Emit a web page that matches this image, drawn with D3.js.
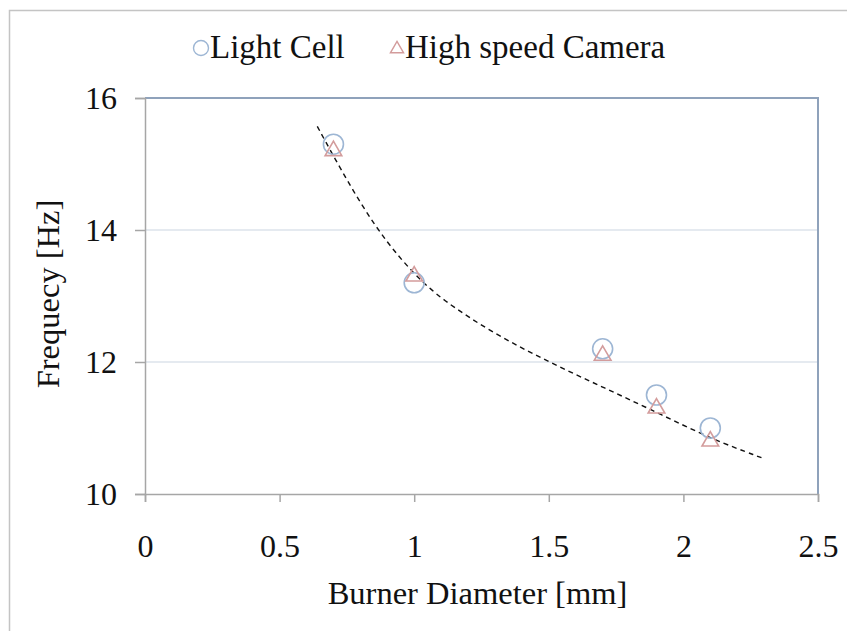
<!DOCTYPE html>
<html>
<head>
<meta charset="utf-8">
<script src="https://cdn.jsdelivr.net/npm/d3@7"></script>
<style>
  body { margin: 0; background: #fff; }
  svg text { font-family: "Liberation Serif", "Tinos", "DejaVu Serif", serif !important; fill: #111; }
</style>
</head>
<body>
<div id="chart"></div>
<script>
// data
var diameters = [0.7, 1.0, 1.7, 1.9, 2.1];
var lightCell = [15.3, 13.2, 12.2, 11.5, 11.0];
var highSpeed = [15.2, 13.3, 12.1, 11.3, 10.8];
// dashed trend line
var trendX = [0.64, 0.7, 0.8, 0.9, 1.0, 1.1, 1.3, 1.5, 1.7, 1.9, 2.1, 2.29];
var trendY = [15.57, 15.12, 14.4, 13.8, 13.33, 12.95, 12.42, 12.0, 11.62, 11.24, 10.84, 10.55];
var xTicks = [0, 0.5, 1, 1.5, 2, 2.5];
var yTicks = [10, 12, 14, 16];

var W = 847, H = 631;
var margin = {top: 98, right: 29, bottom: 137, left: 145},
    width = W - margin.left - margin.right,
    height = H - margin.top - margin.bottom;

var root = d3.select("#chart").append("svg")
    .attr("width", W)
    .attr("height", H);

// outer chart frame (only left/top visible)
root.append("rect")
    .attr("x", 9.5).attr("y", 10.5)
    .attr("width", 900).attr("height", 700)
    .attr("fill", "none")
    .attr("stroke", "#c4c4c4")
    .attr("stroke-width", 1.5);

var svg = root.append("g")
    .attr("transform", "translate(" + margin.left + "," + margin.top + ")");

var x = d3.scaleLinear().domain([0, 2.5]).range([0, width]);
var y = d3.scaleLinear().domain([10, 16]).range([height, 0]);

// gridlines
svg.selectAll(".grid")
    .data(yTicks.filter(function(d){ return d > 10 && d < 16; }))
    .enter().append("line")
    .attr("x1", 0).attr("x2", width)
    .attr("y1", function(d){ return y(d); })
    .attr("y2", function(d){ return y(d); })
    .attr("stroke", "#dce3eb")
    .attr("stroke-width", 1.5);

// plot border top / right
svg.append("path")
    .attr("d", "M0," + y(16) + "H" + x(2.5) + "V" + y(10))
    .attr("fill", "none")
    .attr("stroke", "#8fa2bb")
    .attr("stroke-width", 2);

// x axis
var xAxis = svg.append("g")
    .attr("transform", "translate(0," + height + ")")
    .call(d3.axisBottom(x).tickValues(xTicks).tickSize(8).tickPadding(32)
        .tickFormat(d3.format("")));
xAxis.attr("font-family", null).attr("font-size", null);
xAxis.select(".domain").attr("stroke", "#a6a6a6").attr("stroke-width", 1.5);
xAxis.selectAll(".tick line").attr("stroke", "#a6a6a6").attr("stroke-width", 1.5);
xAxis.selectAll(".tick text")
    .style("font-size", "32px")
    .attr("fill", "#111");

// y axis
var yAxis = svg.append("g")
    .call(d3.axisLeft(y).tickValues(yTicks).tickSize(10).tickPadding(18)
        .tickFormat(d3.format("d")));
yAxis.attr("font-family", null).attr("font-size", null);
yAxis.select(".domain").attr("stroke", "#a6a6a6").attr("stroke-width", 1.5);
yAxis.selectAll(".tick line").attr("stroke", "#a6a6a6").attr("stroke-width", 1.5);
yAxis.selectAll(".tick text")
    .style("font-size", "32px")
    .attr("fill", "#111");

// axis titles
svg.append("text")
    .attr("x", width / 2 - 4)
    .attr("y", height + 110)
    .attr("text-anchor", "middle")
    .style("font-size", "32.5px")
    .text("Burner Diameter [mm]");

svg.append("text")
    .attr("transform", "translate(" + (59 - margin.left) + "," + (y(13) - 2) + ") rotate(-90)")
    .attr("text-anchor", "middle")
    .style("font-size", "32.5px")
    .text("Frequecy [Hz]");

// trend line
var trend = trendX.map(function(d, i){ return [d, trendY[i]]; });
svg.append("path")
    .datum(trend)
    .attr("fill", "none")
    .attr("stroke", "#111")
    .attr("stroke-width", 1.4)
    .attr("stroke-dasharray", "5,4")
    .attr("d", d3.line()
        .x(function(d){ return x(d[0]); })
        .y(function(d){ return y(d[1]); })
        .curve(d3.curveBasis));

var triangle = d3.symbol().type(d3.symbolTriangle);

// light cell circles
svg.selectAll(".lc")
    .data(diameters)
    .enter().append("circle")
    .attr("cx", function(d){ return x(d); })
    .attr("cy", function(d, i){ return y(lightCell[i]); })
    .attr("r", 10)
    .attr("fill", "none")
    .attr("stroke", "#9db6d4")
    .attr("stroke-width", 1.6);

// high speed camera triangles
svg.selectAll(".hs")
    .data(diameters)
    .enter().append("path")
    .attr("transform", function(d, i){ return "translate(" + x(d) + "," + y(highSpeed[i]) + ")"; })
    .attr("d", triangle.size(120))
    .attr("fill", "none")
    .attr("stroke", "#d39c9c")
    .attr("stroke-width", 1.6);

// legend
var legend = root.append("g");
legend.append("circle")
    .attr("cx", 201).attr("cy", 48).attr("r", 7.5)
    .attr("fill", "none").attr("stroke", "#9db6d4").attr("stroke-width", 1.4);
legend.append("text")
    .attr("x", 210).attr("y", 58)
    .style("font-size", "33px")
    .text("Light Cell");
legend.append("path")
    .attr("transform", "translate(397,49)")
    .attr("d", d3.symbol().type(d3.symbolTriangle).size(75)())
    .attr("fill", "none").attr("stroke", "#d39c9c").attr("stroke-width", 1.4);
legend.append("text")
    .attr("x", 405).attr("y", 58)
    .style("font-size", "33px")
    .text("High speed Camera");
</script>
</body>
</html>
